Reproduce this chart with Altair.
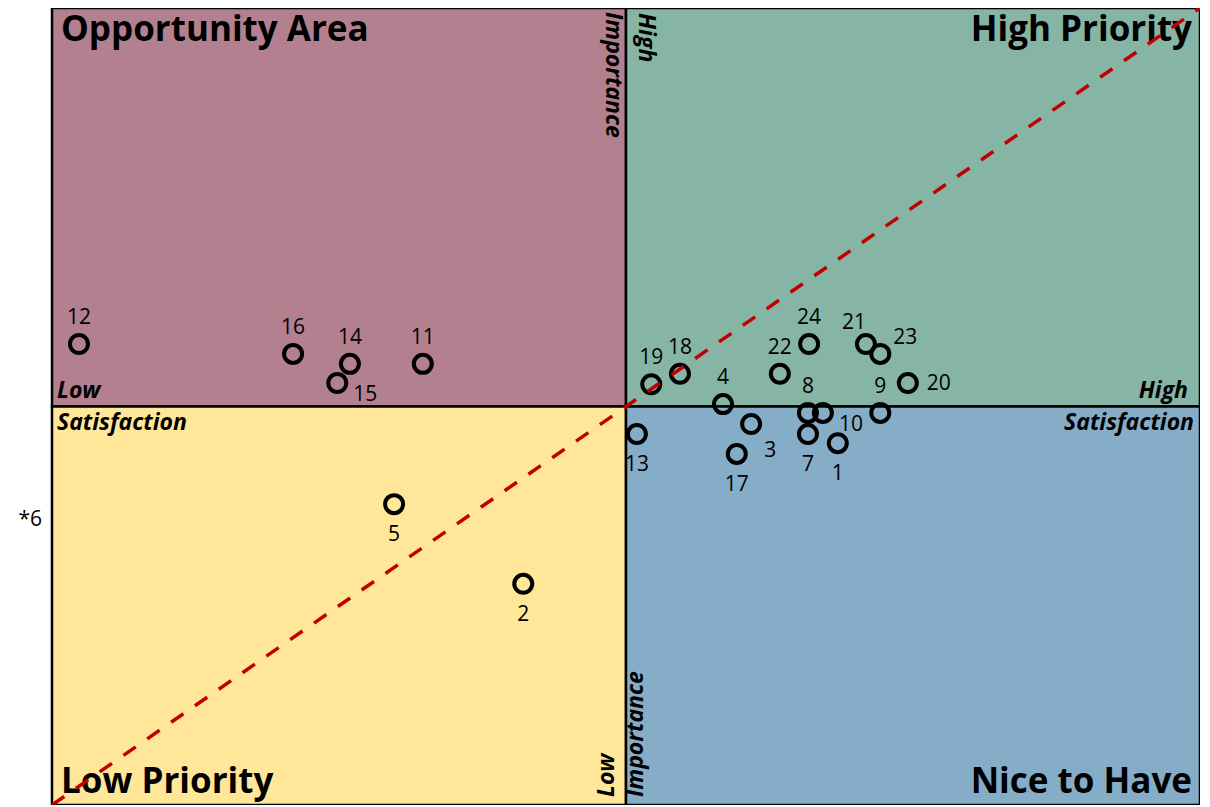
import altair as alt
import pandas as pd

# ---- data ----
ids = ["1", "2", "3", "4", "5", "7", "8", "9", "10", "11", "12", "13",
       "14", "15", "16", "17", "18", "19", "20", "21", "22", "23", "24"]
satisfaction = [36.9, -17.9, 21.8, 16.9, -40.4, 31.7, 31.7, 44.3, 34.3, -35.4, -95.3, 1.9,
                -48.1, -50.3, -58.0, 19.3, 9.4, 4.4, 49.1, 41.8, 26.8, 44.3, 31.9]
importance = [-9.2, -44.5, -4.4, 0.6, -24.5, -6.9, -1.6, -1.6, -1.6, 10.7, 15.7, -6.9,
              10.7, 5.9, 13.2, -11.9, 8.2, 5.6, 5.9, 15.7, 8.2, 13.2, 15.7]
placement = ["below", "below", "below-right", "above", "below", "below", "above", "above",
             "right-down", "above", "above", "below", "above", "right-down", "above", "below",
             "above", "above", "right", "above-left", "above", "above-right", "above"]

# point outside the plotted range
off_label = ["*6"]
off_satisfaction = [-103.8]
off_importance = [-28.5]

quadrant_names = ["Opportunity Area", "High Priority", "Low Priority", "Nice to Have"]
quadrant_colors = ["#B3808F", "#86B5A5", "#FFE699", "#86ADC8"]
q_x1 = [-100, 0, -100, 0]
q_x2 = [0, 100, 0, 100]
q_y1 = [0, 0, -100, -100]
q_y2 = [100, 100, 0, 0]

diag_x = [-100, 100]
diag_y = [-100, 100]

W, H = 1148, 797
FONT = "Open Sans"

xs = alt.Scale(domain=[-100, 100], nice=False, zero=False)
ys = alt.Scale(domain=[-100, 100], nice=False, zero=False)

pts = pd.DataFrame({"id": ids, "s": satisfaction, "i": importance, "p": placement})
quad = pd.DataFrame({"name": quadrant_names, "color": quadrant_colors,
                     "x1": q_x1, "x2": q_x2, "y1": q_y1, "y2": q_y2})
diag = pd.DataFrame({"s": diag_x, "i": diag_y})
off = pd.DataFrame({"id": off_label, "s": off_satisfaction, "i": off_importance})

X = lambda f="s": alt.X(f"{f}:Q", scale=xs, axis=None)
Y = lambda f="i": alt.Y(f"{f}:Q", scale=ys, axis=None)

rects = alt.Chart(quad).mark_rect(stroke="black", strokeWidth=2.5).encode(
    x=X("x1"), x2="x2", y=Y("y1"), y2="y2",
    fill=alt.Fill("color:N", scale=None, legend=None),
)


def title_layer(name, xv, yv, align, dx, dy):
    d = pd.DataFrame({"t": [name], "s": [xv], "i": [yv]})
    return alt.Chart(d).mark_text(
        font=FONT, fontSize=35, fontWeight="bold", color="black",
        align=align, baseline="alphabetic", dx=dx, dy=dy,
    ).encode(x=X(), y=Y(), text="t:N")


titles = [
    title_layer(quadrant_names[0], -100, 100, "left", 9, 33),
    title_layer(quadrant_names[1], 100, 100, "right", -8, 33),
    title_layer(quadrant_names[2], -100, -100, "left", 9, -12),
    title_layer(quadrant_names[3], 100, -100, "right", -8, -12),
]


def axis_label(txt, xv, yv, align, baseline, dx, dy, angle=0):
    d = pd.DataFrame({"t": [txt], "s": [xv], "i": [yv]})
    kw = dict(font=FONT, fontSize=23, fontWeight="bold", fontStyle="italic", color="black",
              align=align, baseline=baseline, dx=dx, dy=dy)
    if angle:
        kw["angle"] = angle
    return alt.Chart(d).mark_text(**kw).encode(x=X(), y=Y(), text="t:N")


# for rotated labels dx/dy act along the rotated text direction
axis_labels = [
    axis_label("Low", -100, 0, "left", "alphabetic", 5, -9),
    axis_label("Satisfaction", -100, 0, "left", "top", 5, 5),
    axis_label("High", 100, 0, "right", "alphabetic", -12, -9),
    axis_label("Satisfaction", 100, 0, "right", "top", -6, 5),
    axis_label("Importance", 0, 100, "left", "alphabetic", 4, 20, 90),
    axis_label("High", 0, 100, "left", "alphabetic", 5, -13, 90),
    axis_label("Low", 0, -100, "left", "alphabetic", 8, -12, 270),
    axis_label("Importance", 0, -100, "left", "alphabetic", 8, 17, 270),
]

circles = alt.Chart(pts).mark_point(
    shape="circle", filled=False, stroke="black", strokeWidth=4, size=324, opacity=1
).encode(x=X(), y=Y())

offsets = {
    "above": (0, -26),
    "below": (0, 31),
    "right": (31, 1),
    "right-down": (28, 12),
    "below-right": (19, 27),
    "above-right": (25, -16),
    "above-left": (-12, -21),
}
label_layers = []
for key, (dx, dy) in offsets.items():
    label_layers.append(
        alt.Chart(pts).transform_filter(alt.datum.p == key).mark_text(
            font=FONT, fontSize=21, color="black", align="center", baseline="middle",
            dx=dx, dy=dy,
        ).encode(x=X(), y=Y(), text="id:N")
    )

off_text = alt.Chart(off).mark_text(
    font=FONT, fontSize=21, color="black", align="center", baseline="middle"
).encode(x=X(), y=Y(), text="id:N")

diag_line = alt.Chart(diag).mark_line(
    color="#C00000", strokeWidth=3.5, strokeDash=[15, 14]
).encode(x=X(), y=Y())

chart = alt.layer(
    rects, *titles, *axis_labels, circles, *label_layers, off_text, diag_line
).properties(
    width=W, height=H,
    autosize=alt.AutoSizeParams(type="none"),
    padding={"left": 44, "top": 0, "right": 0, "bottom": 0},
).configure_view(stroke=None)

chart.save("out.html", embed_options={"renderer": "svg", "actions": False})
